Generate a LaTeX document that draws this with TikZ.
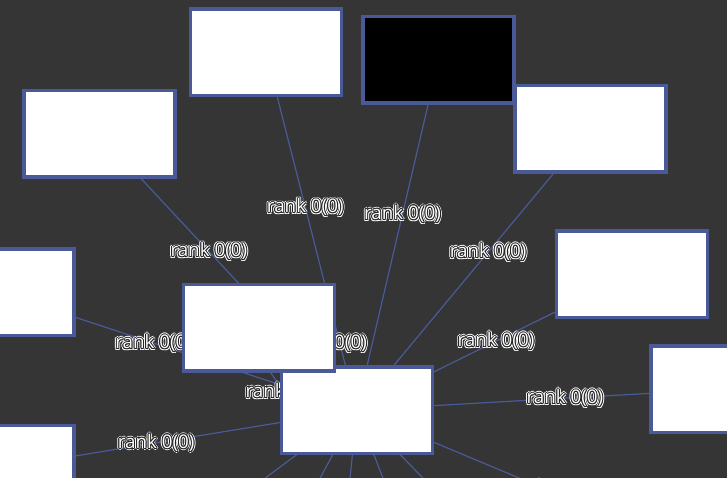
\documentclass[tikz,border=0pt]{standalone}
\usepackage{fontspec}
\setmainfont{Open Sans}
\definecolor{bgc}{HTML}{353535}
\definecolor{bord}{HTML}{4A5A98}
\definecolor{dk}{HTML}{222222}
\pgfdeclarelayer{back}
\pgfdeclarelayer{edges}
\pgfsetlayers{back,edges,main}
\newcommand\rktext{rank 0(0)}
\newcommand\lay[3]{\rlap{\hspace*{#1}\raisebox{#2}{\textcolor{#3}{\rktext}}}}
\newcommand\halotext{%
\lay{1.9pt}{0pt}{white}\lay{-1.9pt}{0pt}{white}\lay{0pt}{1.9pt}{white}\lay{0pt}{-1.9pt}{white}%
\lay{1.35pt}{1.35pt}{white}\lay{-1.35pt}{1.35pt}{white}\lay{1.35pt}{-1.35pt}{white}\lay{-1.35pt}{-1.35pt}{white}%
\lay{1pt}{0pt}{dk}\lay{-1pt}{0pt}{dk}\lay{0pt}{1pt}{dk}\lay{0pt}{-1pt}{dk}%
\lay{0.7pt}{0.7pt}{dk}\lay{-0.7pt}{0.7pt}{dk}\lay{0.7pt}{-0.7pt}{dk}\lay{-0.7pt}{-0.7pt}{dk}%
\textcolor{white}{\rktext}}
\tikzset{
  box/.style={draw=bord, fill=white, line width=3.5pt, minimum width=151pt, minimum height=86.5pt, inner sep=0pt, outer sep=0pt},
  edge/.style={draw=bord, line width=1.2pt},
  lbl/.style={inner sep=0pt, font=\fontsize{18.8}{22}\selectfont}
}
\begin{document}
\begin{tikzpicture}[x=1pt,y=-1pt]
\useasboundingbox (0,0) rectangle (727,478);
\begin{pgfonlayer}{back}
\fill[bgc] (0,0) rectangle (727,478);
\end{pgfonlayer}
% nodes
\node[box] (D) at (99.5,134) {};
\node[box] (A) at (266,52.5) {};
\node[box, fill=black] (E) at (438.5,60) {};
\node[box] (F) at (590.5,129) {};
\node[box] (G) at (632,274) {};
\node[box] (H) at (726.5,389) {};
\node[box] (I) at (-1.5,292) {};
\node[box] (J) at (-1.5,468.5) {};
\node[box] (C) at (356.75,410) {};
\node[box] (B) at (258.75,327.75) {};
% free ends outside the view
\coordinate (k1) at (208.9,520);
\coordinate (k2) at (297.6,520);
\coordinate (k3) at (346,520);
\coordinate (k4) at (399,520);
\coordinate (k5) at (463.7,520);
\coordinate (k6) at (691,550);
\coordinate (q1) at (248,340);
\coordinate (q2) at (293,405);
\begin{pgfonlayer}{edges}
\draw[edge] (A.center) -- node[lbl,pos=.433] {\halotext} (C.center);
\draw[edge] (D.center) -- node[lbl,pos=.425] {\halotext} (C.center);
\draw[edge] (E.center) -- node[lbl,pos=.44] {\halotext} (C.center);
\draw[edge] (F.center) -- node[lbl,pos=.438] {\halotext} (C.center);
\draw[edge] (G.center) -- node[lbl,pos=.494] {\halotext} (C.center);
\draw[edge] (H.center) -- node[lbl,pos=.437] {\halotext} (C.center);
\draw[edge] (I.center) -- node[lbl,pos=.433] {\halotext} (C.center);
\draw[edge] (J.center) -- node[lbl,pos=.44] {\halotext} (C.center);
\draw[edge] (k6) -- node[lbl,pos=.435] {\halotext} (C.center);
\draw[edge] (C.center) -- (k1);
\draw[edge] (C.center) -- (k2);
\draw[edge] (C.center) -- (k3);
\draw[edge] (C.center) -- (k4);
\draw[edge] (C.center) -- (k5);
\draw[edge] (q1) -- node[lbl,pos=.8] {\halotext} (q2);
\node[lbl] (L1) at (328.5,343) {\halotext};
\end{pgfonlayer}
\end{tikzpicture}
\end{document}
